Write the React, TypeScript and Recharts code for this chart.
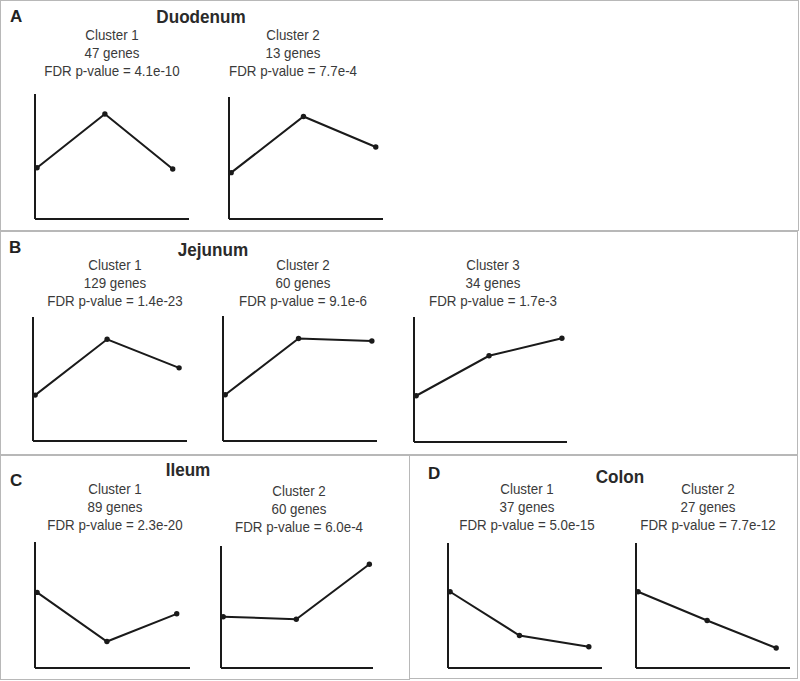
import { LineChart, Line, XAxis, YAxis } from 'recharts';

// three time points per cluster, relative expression (0-10)
const TIMEPOINTS = [0, 1, 2];

const DUODENUM_C1 = [4.1, 8.4, 4.0];
const DUODENUM_C2 = [3.8, 8.4, 5.9];
const JEJUNUM_C1 = [3.7, 8.2, 5.9];
const JEJUNUM_C2 = [3.7, 8.2, 8.0];
const JEJUNUM_C3 = [3.7, 6.9, 8.3];
const ILEUM_C1 = [6.0, 2.1, 4.3];
const ILEUM_C2 = [4.2, 4.0, 8.5];
const COLON_C1 = [6.1, 2.6, 1.7];
const COLON_C2 = [6.1, 3.8, 1.6];

const GENES = { duo: [47, 13], jej: [129, 60, 34], ile: [89, 60], col: [37, 27] };
const PVALUES = {
  duo: ['4.1e-10', '7.7e-4'],
  jej: ['1.4e-23', '9.1e-6', '1.7e-3'],
  ile: ['2.3e-20', '6.0e-4'],
  col: ['5.0e-15', '7.7e-12'],
};

const INK = '#1a1a1a';
const TEXT = '#3a3a3a';
const BORDER = '#b8b8b8';
const AXW = 2;
const FONT = '"Liberation Sans", Arial, sans-serif';

interface Frame { x: number; top: number; bottom: number; right: number; xMax: number }

function MiniChart({ values, f }: { values: number[]; f: Frame }) {
  const data = TIMEPOINTS.map((t, i) => ({ t, v: values[i] }));
  return (
    <div style={{ position: 'absolute', left: f.x - AXW, top: f.top }}>
      <LineChart
        width={f.right - f.x + AXW}
        height={f.bottom - f.top + AXW}
        data={data}
        margin={{ top: 0, right: 0, bottom: 0, left: 0 }}
      >
        <XAxis
          type="number"
          dataKey="t"
          domain={[-0.03, f.xMax]}
          tick={false}
          tickLine={false}
          axisLine={{ stroke: INK, strokeWidth: 2 }}
          height={AXW}
        />
        <YAxis
          type="number"
          domain={[0, 10]}
          tick={false}
          tickLine={false}
          axisLine={{ stroke: INK, strokeWidth: 2 }}
          width={AXW}
        />
        <Line
          type="linear"
          dataKey="v"
          stroke={INK}
          strokeWidth={2}
          dot={{ r: 2.7, fill: INK, stroke: 'none' }}
          isAnimationActive={false}
        />
      </LineChart>
    </div>
  );
}

// condensed look of the original's font: plain sans squeezed horizontally
function ClusterText({ cx, y, n, genes, p }: { cx: number; y: number; n: number; genes: number; p: string }) {
  return (
    <div
      style={{
        position: 'absolute', left: cx - 100, top: y - 9, width: 200,
        textAlign: 'center', lineHeight: '18px', fontSize: 15, color: TEXT, fontFamily: FONT,
        transform: 'scaleX(0.89)', transformOrigin: '50% 50%',
      }}
    >
      <div>Cluster {n}</div>
      <div>{genes} genes</div>
      <div>FDR p-value = {p}</div>
    </div>
  );
}

function Title({ cx, y, text }: { cx: number; y: number; text: string }) {
  return (
    <div
      style={{
        position: 'absolute', left: cx - 80, top: y - 11, width: 160, textAlign: 'center',
        lineHeight: '22px', fontSize: 18, fontWeight: 'bold', color: '#2a2a2a', fontFamily: FONT,
        transform: 'scaleX(0.95)', transformOrigin: '50% 50%',
      }}
    >
      {text}
    </div>
  );
}

function Letter({ x, y, text }: { x: number; y: number; text: string }) {
  return (
    <div
      style={{
        position: 'absolute', left: x, top: y - 10, lineHeight: '20px', fontSize: 17,
        fontWeight: 'bold', color: '#222', fontFamily: FONT,
      }}
    >
      {text}
    </div>
  );
}

function Box({ x, y, w, h }: { x: number; y: number; w: number; h: number }) {
  return (
    <div
      style={{
        position: 'absolute', left: x, top: y, width: w, height: h,
        border: `1px solid ${BORDER}`, boxSizing: 'border-box',
      }}
    />
  );
}

export default function App() {
  return (
    <div style={{ position: 'absolute', left: 0, top: 0, width: 800, height: 681, background: '#fff', overflow: 'hidden' }}>
      <Box x={0} y={0} w={799} h={231} />
      <Box x={0} y={231} w={798} h={224} />
      <Box x={0} y={455} w={410} h={225} />
      <Box x={409} y={455} w={389} h={224} />

      {/* A: Duodenum */}
      <Letter x={10} y={17} text="A" />
      <Title cx={201} y={17} text="Duodenum" />
      <ClusterText cx={112} y={35} n={1} genes={GENES.duo[0]} p={PVALUES.duo[0]} />
      <ClusterText cx={293} y={35} n={2} genes={GENES.duo[1]} p={PVALUES.duo[1]} />
      <MiniChart values={DUODENUM_C1} f={{ x: 35, top: 94, bottom: 219, right: 189, xMax: 2.24 }} />
      <MiniChart values={DUODENUM_C2} f={{ x: 229, top: 97, bottom: 219, right: 383, xMax: 2.1 }} />

      {/* B: Jejunum */}
      <Letter x={9} y={248} text="B" />
      <Title cx={213} y={250} text="Jejunum" />
      <ClusterText cx={115} y={265} n={1} genes={GENES.jej[0]} p={PVALUES.jej[0]} />
      <ClusterText cx={303} y={265} n={2} genes={GENES.jej[1]} p={PVALUES.jej[1]} />
      <ClusterText cx={493} y={265} n={3} genes={GENES.jej[2]} p={PVALUES.jej[2]} />
      <MiniChart values={JEJUNUM_C1} f={{ x: 33, top: 317, bottom: 441, right: 187, xMax: 2.11 }} />
      <MiniChart values={JEJUNUM_C2} f={{ x: 223, top: 316, bottom: 441, right: 377, xMax: 2.07 }} />
      <MiniChart values={JEJUNUM_C3} f={{ x: 414, top: 317, bottom: 442, right: 567, xMax: 2.07 }} />

      {/* C: Ileum */}
      <Letter x={10} y={481} text="C" />
      <Title cx={188} y={470} text="Ileum" />
      <ClusterText cx={115} y={489} n={1} genes={GENES.ile[0]} p={PVALUES.ile[0]} />
      <ClusterText cx={299} y={491} n={2} genes={GENES.ile[1]} p={PVALUES.ile[1]} />
      <MiniChart values={ILEUM_C1} f={{ x: 35, top: 542, bottom: 668, right: 190, xMax: 2.19 }} />
      <MiniChart values={ILEUM_C2} f={{ x: 221, top: 546, bottom: 668, right: 373, xMax: 2.05 }} />

      {/* D: Colon */}
      <Letter x={428} y={474} text="D" />
      <Title cx={620} y={477} text="Colon" />
      <ClusterText cx={527} y={489} n={1} genes={GENES.col[0]} p={PVALUES.col[0]} />
      <ClusterText cx={708} y={489} n={2} genes={GENES.col[1]} p={PVALUES.col[1]} />
      <MiniChart values={COLON_C1} f={{ x: 448, top: 543, bottom: 668, right: 602, xMax: 2.19 }} />
      <MiniChart values={COLON_C2} f={{ x: 636, top: 543, bottom: 668, right: 790, xMax: 2.2 }} />
    </div>
  );
}
